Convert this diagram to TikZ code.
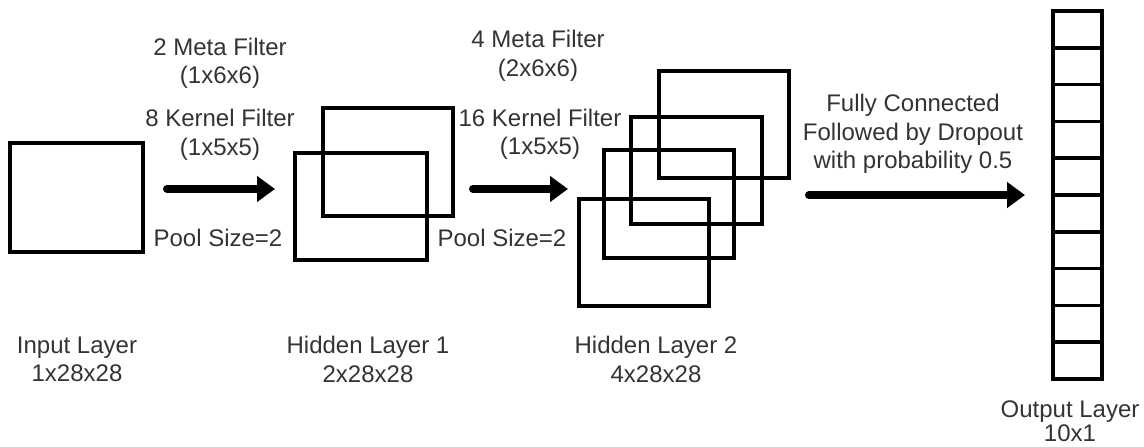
\documentclass[tikz,border=0pt]{standalone}
\usepackage{fontspec}
\setmainfont{Liberation Sans}
\usepackage{xcolor}
\usetikzlibrary{positioning,arrows.meta}
\definecolor{labelGray}{HTML}{333333}

\tikzset{
  fmap/.style={draw=black, line width=3.5pt, inner sep=0pt, minimum width=130pt, minimum height=107pt},
  outCell/.style={draw=black, line width=3.5pt, inner sep=0pt, minimum width=49pt, minimum height=36.8pt},
  lbl/.style={text=labelGray, font=\fontsize{24}{28.5}\selectfont, align=center, inner sep=0pt},
  flow/.style={line width=8pt, line cap=round, -{Triangle[length=18pt,width=25pt]}}
}

\begin{document}
\begin{tikzpicture}[x=1pt, y=-1pt]
  \useasboundingbox (0,0) rectangle (1144,447);

  % input layer
  \node[fmap, minimum width=133pt, minimum height=109pt] (inMap) at (76.5,197.5) {};
  \node[lbl] (inLbl) at (77,359.5) {Input Layer\\1x28x28};

  % first conv + pool
  \node[lbl] (metaA) at (220,63.5) {2 Meta Filter\\(1x6x6)};
  \node[lbl] (kernA) at (220,135) {8 Kernel Filter\\(1x5x5)};
  \node[lbl] (poolA) at (218,238) {Pool Size=2};
  \coordinate (arrAs) at (167,189);
  \coordinate (arrAe) at (275,189);
  \draw[flow] (arrAs) -- (arrAe);

  % hidden layer 1
  \node[fmap, minimum height=108pt] (hidA1) at (388,162) {};
  \node[fmap, minimum width=132pt] (hidA2) at (361,206.5) {};
  \node[lbl] (hidALbl) at (368,359.5) {Hidden Layer 1\\2x28x28};

  % second conv + pool
  \node[lbl] (metaB) at (538,56) {4 Meta Filter\\(2x6x6)};
  \node[lbl] (kernB) at (540,134.5) {16 Kernel Filter\\(1x5x5)};
  \node[lbl] (poolB) at (502,238) {Pool Size=2};
  \coordinate (arrBs) at (473,189);
  \coordinate (arrBe) at (568,189);
  \draw[flow] (arrBs) -- (arrBe);

  % hidden layer 2
  \node[fmap] (hidB1) at (724,124.5) {};
  \node[fmap, minimum width=131pt] (hidB2) at (696.5,170.5) {};
  \node[fmap, minimum height=108pt] (hidB3) at (669,204) {};
  \node[fmap] (hidB4) at (644,252.5) {};
  \node[lbl] (hidBLbl) at (656,359.5) {Hidden Layer 2\\4x28x28};

  % fully connected
  \node[lbl] (fcLbl) at (913,134) {Fully Connected\\Followed by Dropout\\with probability 0.5};
  \coordinate (arrCs) at (809,195);
  \coordinate (arrCe) at (1025,195);
  \draw[flow] (arrCs) -- (arrCe);

  % output layer
  \foreach \i in {0,...,9}
    \node[outCell] (out\i) at (1077.5,{29.4+36.8*\i}) {};
  \node[lbl, font=\fontsize{24}{24}\selectfont] (outLbl) at (1070,421) {Output Layer\\10x1};
\end{tikzpicture}
\end{document}
